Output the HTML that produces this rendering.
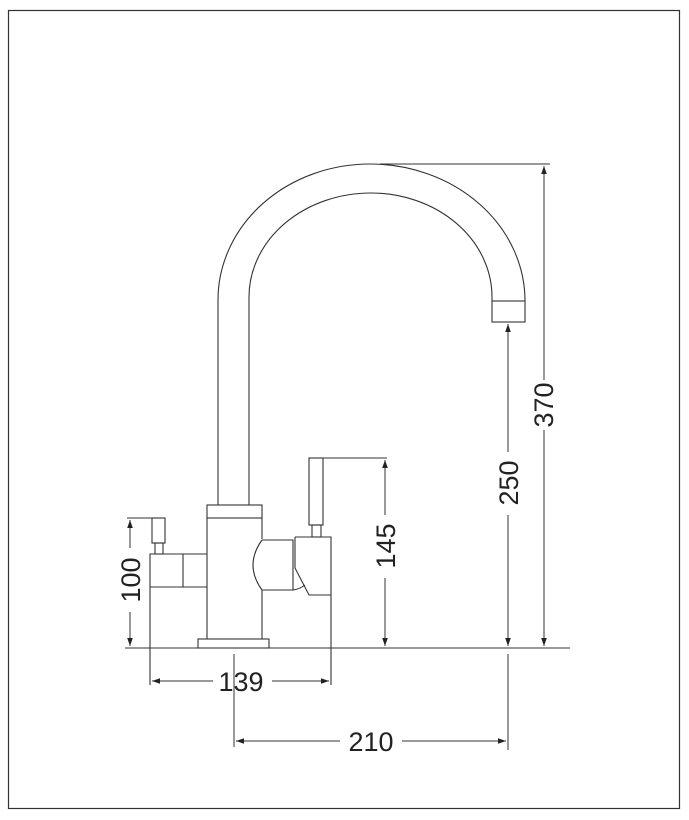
<!DOCTYPE html>
<html><head><meta charset="utf-8"><style>
html,body{margin:0;padding:0;background:#fff;}
svg{display:block;}
text{font-family:"Liberation Sans",Arial,sans-serif;font-size:27px;fill:#222;}
</style></head><body>
<svg width="689" height="820" viewBox="0 0 689 820" xmlns="http://www.w3.org/2000/svg">
<defs>
<marker id="a" viewBox="0 0 10 10" refX="10" refY="5" markerWidth="10" markerHeight="8" orient="auto-start-reverse" markerUnits="userSpaceOnUse"><path d="M0,1.5 L10,5 L0,8.5 z" fill="#222"/></marker>
</defs>
<rect x="8.5" y="10.5" width="671" height="798" fill="none" stroke="#333" stroke-width="1.2"/>
<g fill="none" stroke="#333" stroke-width="1.1">
<!-- spout -->
<path d="M218,505 L218,300 A152,136 0 0 1 370,164 A155,137 0 0 1 525,301"/>
<path d="M249,505 L249,297 A122,104 0 0 1 371,193 A121,104 0 0 1 492,297 L492,301"/>
<rect x="492" y="301" width="33" height="21"/>
<!-- body -->
<rect x="207" y="505" width="55" height="13"/>
<path d="M207,518 L207,639 M262,518 L262,539 M262,590 L262,639"/>
<rect x="198" y="639" width="71" height="9"/>
<!-- left handle -->
<path d="M150,685 L150,554 L207,554 M150,587 L207,587 M183,554 L183,587"/>
<rect x="152" y="518" width="13" height="25"/>
<rect x="155" y="543" width="8" height="11"/>
<!-- right connector -->
<path d="M262,540 L293,540 L293,590 L262,590 M262,540 Q244,565 262,590 M293,590 Q300,589 305,585"/>
<path d="M295,537 L331,537 L331,685 M295,537 L295,568 L309,595 L331,595"/>
<rect x="309" y="458" width="14" height="67"/>
<rect x="312" y="525" width="9" height="12"/>
<!-- ground -->
<path d="M125,648 L570,648"/>
</g>
<g fill="none" stroke="#333" stroke-width="1">
<!-- extension lines -->
<path d="M380,164 L550,164"/>
<path d="M323,458 L387,458"/>
<path d="M127,518 L165,518"/>
<path d="M234,654 L234,747"/>
<path d="M508,654 L508,750"/>
<!-- dims -->
<path d="M544,166 L544,380 M544,430 L544,646" marker-start="url(#a)" marker-end="url(#a)"/>
<path d="M508,324 L508,452 M508,515 L508,646" marker-start="url(#a)" marker-end="url(#a)"/>
<path d="M385,460 L385,515 M385,578 L385,646" marker-start="url(#a)" marker-end="url(#a)"/>
<path d="M130,520 L130,548 M130,612 L130,646" marker-start="url(#a)" marker-end="url(#a)"/>
<path d="M152,681 L213,681 M272,681 L329,681" marker-start="url(#a)" marker-end="url(#a)"/>
<path d="M236,741 L340,741 M402,741 L506,741" marker-start="url(#a)" marker-end="url(#a)"/>
</g>
<text x="241" y="691" text-anchor="middle">139</text>
<text x="371" y="751" text-anchor="middle">210</text>
<text transform="translate(553,405) rotate(-90)" text-anchor="middle">370</text>
<text transform="translate(518,483) rotate(-90)" text-anchor="middle">250</text>
<text transform="translate(395,546) rotate(-90)" text-anchor="middle">145</text>
<text transform="translate(140,580) rotate(-90)" text-anchor="middle">100</text>
</svg>
</body></html>
